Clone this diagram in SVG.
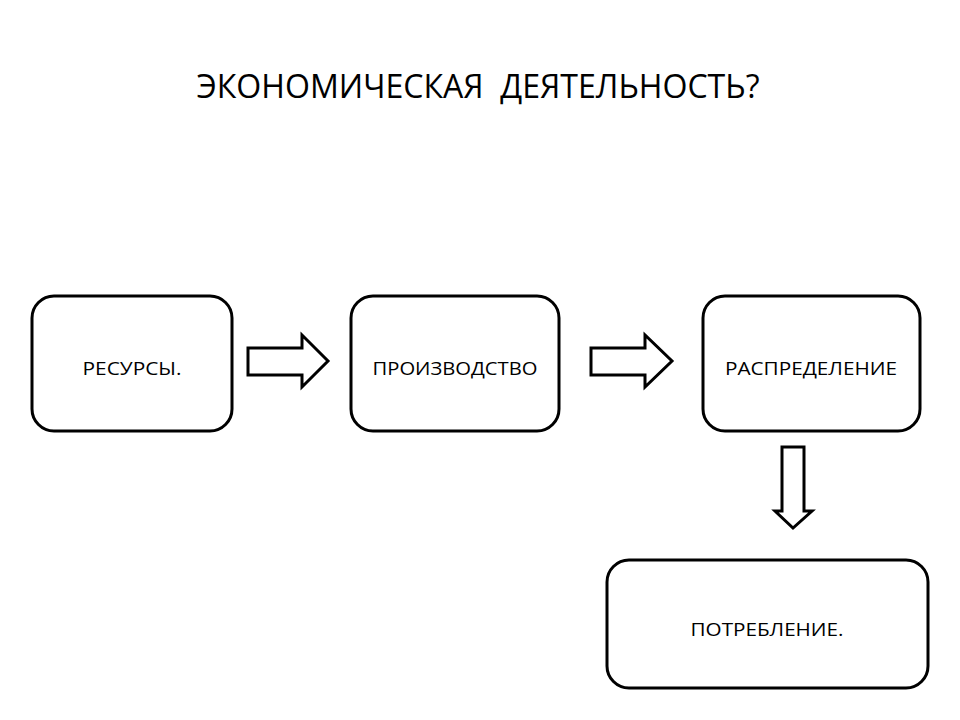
<svg xmlns="http://www.w3.org/2000/svg" width="960" height="720" viewBox="0 0 960 720">
<style>
.box{fill:#fff;stroke:#000;stroke-width:3}
.arr{fill:#fff;stroke:#000;stroke-width:3;stroke-linejoin:miter}
.lbl{font-family:"Open Sans","Liberation Sans",sans-serif;font-size:18.5px;fill:#000;text-anchor:middle}
.title{font-family:"Open Sans","Liberation Sans",sans-serif;font-size:33px;fill:#000;text-anchor:middle}
</style>
<rect width="960" height="720" fill="#fff"/>
<text class="title" x="478" y="98" xml:space="preserve" textLength="563" lengthAdjust="spacingAndGlyphs">ЭКОНОМИЧЕСКАЯ  ДЕЯТЕЛЬНОСТЬ?</text>
<g id="n1"><rect class="box" x="32" y="296" width="200" height="135" rx="22"/><text class="lbl" x="132" y="375" textLength="99" lengthAdjust="spacingAndGlyphs">РЕСУРСЫ.</text></g>
<g id="n2"><rect class="box" x="351" y="296" width="208" height="135" rx="22"/><text class="lbl" x="455" y="375" textLength="165" lengthAdjust="spacingAndGlyphs">ПРОИЗВОДСТВО</text></g>
<g id="n3"><rect class="box" x="703" y="296" width="217" height="135" rx="22"/><text class="lbl" x="811" y="375" textLength="172" lengthAdjust="spacingAndGlyphs">РАСПРЕДЕЛЕНИЕ</text></g>
<g id="n4"><rect class="box" x="607" y="560" width="321" height="128" rx="22"/><text class="lbl" x="767" y="636" textLength="153" lengthAdjust="spacingAndGlyphs">ПОТРЕБЛЕНИЕ.</text></g>
<g id="connectors">
<polygon class="arr" points="248,348 302,348 302,335 328,361 302,387 302,375 248,375"/>
<polygon class="arr" points="591,348 645,348 645,335 672,361 645,387 645,375 591,375"/>
<polygon class="arr" points="782,447 804,447 804,511 812,511 793,528 775,511 782,511"/>
</g>
</svg>
